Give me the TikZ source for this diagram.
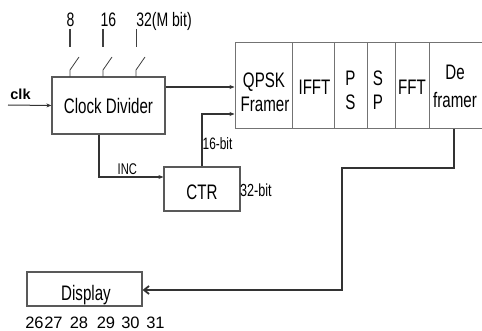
\documentclass[tikz,border=0pt]{standalone}
\usepackage{fontspec}
\setmainfont[FakeStretch=0.72]{Liberation Sans}
\newfontfamily\widefont{Liberation Sans}
\usetikzlibrary{arrows.meta}
\begin{document}
\begin{tikzpicture}[x=1pt,y=-1pt,
  box/.style={draw=black!65,line width=1.2pt,inner sep=0pt,anchor=center},
  cell/.style={draw=black!55,line width=1pt,inner sep=0pt,minimum height=86,anchor=center},
  big/.style={font=\fontsize{21}{24}\selectfont},
  txt/.style={big,inner sep=0pt,anchor=base},
  small/.style={font=\fontsize{16.5}{16}\selectfont,inner sep=0pt,anchor=base west},
  top/.style={font=\fontsize{19.5}{19}\selectfont,inner sep=0pt,anchor=base},
  num/.style={font=\widefont\fontsize{16.5}{16}\selectfont,inner sep=0pt,anchor=base},
  conn/.style={draw=black!80,line width=1.3pt},
  arr/.style={conn,-{Stealth[length=5pt,width=4pt]}},
]
\useasboundingbox (0,0) rectangle (482,331);
% Clock divider
\node[box,big,minimum width=113,minimum height=57] (cd) at (108.5,105.5) {Clock Divider};
% pipeline cells
\node[cell,minimum width=57] (qpsk) at (263.5,86) {};
\node[cell,minimum width=42] (ifft) at (313,86) {};
\node[cell,minimum width=33] (ps) at (350.5,86) {};
\node[cell,minimum width=28] (sp) at (381,86) {};
\node[cell,minimum width=34] (fft) at (412,86) {};
\node[cell,minimum width=62] (def) at (460,86) {};
% cell texts
\node[txt] (tq1) at (264,88) {QPSK};
\node[txt] (tq2) at (265,112) {Framer};
\node[txt] (ti) at (314.5,95) {IFFT};
\node[txt] (tp1) at (350.5,86) {P};
\node[txt] (tp2) at (350.5,110) {S};
\node[txt] (ts1) at (378,86) {S};
\node[txt] (ts2) at (378,110) {P};
\node[txt] (tf) at (412,95) {FFT};
\node[txt] (td1) at (455,80) {De};
\node[txt] (td2) at (455,108) {framer};
% CTR
\node[box,minimum width=76,minimum height=44] (ctr) at (202,189) {};
\node[txt] (tctr) at (ctr.center |- 0,200) {CTR};
% Display
\node[box,minimum width=115,minimum height=34] (disp) at (84.5,289) {};
\node[txt] (tdisp) at (86,300) {Display};
% labels
\node[inner sep=0pt,anchor=base,font=\widefont\fontsize{14.5}{14}\bfseries\selectfont] (clk) at (20.5,100) {clk};
\node[small,font=\fontsize{15.5}{15}\selectfont] (inc) at (117.5,175) {INC};
\node[small] (b16) at (202.5,150) {16-bit};
\node[small,font=\fontsize{17.5}{17}\selectfont] (b32) at (240,197) {32-bit};
\node[top] (l8) at (70.5,27) {8};
\node[top] (l16) at (108.5,27) {16};
\node[top] (l32) at (164,27) {32(M bit)};
\foreach \n/\x in {26/34.5,27/53.5,28/79,29/106,30/130.5,31/155.5}
  \node[num] (n\n) at (\x,328) {\n};
% switches
\foreach \x/\w in {70/1.6,103/1.6,136/0.8}{
  \draw[black!75,line width=\w pt] (\x,29) -- (\x,47);
  \draw[black!75,line width=0.8pt] (\x,77) -- (\x,70) -- (\x+9,57);
}
% connectors
\coordinate (clkin) at (8,105);
\draw[arr,line width=1pt] (clkin) -- (cd.west);
\draw[arr] (cd.east |- 0,87) -- (qpsk.west |- 0,87);
\draw[arr] (ctr.north) -- (202,114) -- (qpsk.west |- 0,114);
\draw[arr] (cd.south -| 99,0) -- (99,177) -- (ctr.west |- 0,177);
\draw[conn,line width=1.8pt,-{Straight Barb[length=5pt,width=8pt]}] (def.south -| 454,0) -- (454,168) -- (342,168) -- (342,290) -- (disp.east |- 0,290);
\end{tikzpicture}
\end{document}
